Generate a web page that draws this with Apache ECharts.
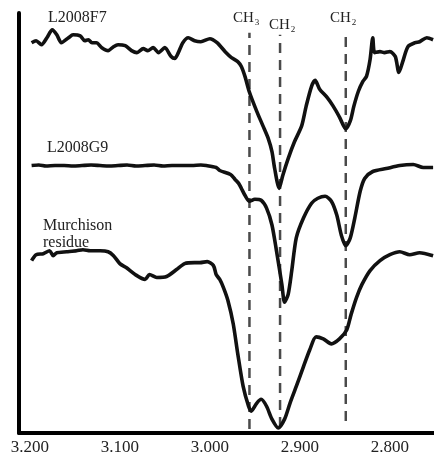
<!DOCTYPE html>
<html>
<head>
<meta charset="utf-8">
<script src="https://cdn.jsdelivr.net/npm/echarts@6/dist/echarts.min.js"></script>
<style>
html,body{margin:0;padding:0;background:#fff;}
#chart{width:434px;height:456px;}
</style>
</head>
<body>
<div id="chart"></div>
<script>
// Wavenumber (cm-1) and relative transmittance (arbitrary, offset) for each spectrum
var f7Wn  = [3198,3193,3187,3181,3175,3170,3165,3157,3152,3144,3139,3135,3131,3126,3120,3113,3107,3102,3094,3087,3081,3074,3069,3063,3057,3050,3043,3039,3035,3030,3024,3017,3010,3000,2992,2983,2976,2969,2965,2961,2956,2948,2941,2935,2931,2928,2923,2919,2913,2906,2898,2893,2887,2883,2878,2870,2863,2856,2849,2844,2840,2835,2830,2826,2822,2819,2817,2811,2806,2800,2794,2790,2785,2780,2772,2767,2759,2752];
var f7Val = [394,396,392,399,407,402,394,399,402,401,396,397,394,394,389,386,390,392,391,386,384,388,386,389,384,389,380,378,384,394,399,396,395,398,394,385,379,375,370,360,344,325,310,297,284,267,247,260,277,294,310,330,350,356,347,339,330,319,307,315,330,345,355,360,377,399,384,385,384,385,380,364,377,390,394,395,399,397];

var g9Wn  = [3198,3190,3182,3172,3162,3152,3142,3132,3122,3112,3102,3092,3082,3072,3062,3052,3042,3032,3020,3010,3004,2993,2989,2977,2972,2968,2965,2961,2956,2950,2943,2937,2931,2926,2920,2917,2913,2909,2904,2896,2887,2880,2872,2865,2859,2854,2849,2844,2839,2833,2828,2819,2804,2789,2774,2763,2752];
var g9Val = [270,270.5,269.5,270,270,269.5,270,270.5,270,269.5,270,270.5,269.5,270,270.5,269.5,270,270,270,270.5,270,268,265,261,256,252,247,240,234,236,235,227,210,184,150,132,140,164,197,217,232,237,239,234,220,200,189,197,217,244,257,264,267,270,271,268,268];

var murWn  = [3198,3193,3185,3178,3174,3170,3159,3148,3141,3133,3122,3113,3107,3100,3093,3083,3072,3067,3059,3048,3037,3028,3017,3011,3003,2996,2993,2989,2985,2980,2974,2969,2963,2957,2954,2948,2943,2937,2931,2924,2917,2911,2904,2896,2889,2882,2874,2865,2856,2848,2843,2837,2831,2822,2811,2800,2789,2778,2767,2752];
var murVal = [174,180,181,184,179,182,183,184,185,184,184,183,179,171,167,160,155,160,157,158,165,171,172,172,173,169,160,155,147,134,110,80,47,27,22,30,34,27,14,5,14,30,47,67,84,97,95,90,95,104,120,137,150,164,174,180,183,180,182,179];

var seriesNames = ['L2008F7','L2008G9','Murchison residue'];

// Band assignments (cm-1)
var bandWn    = [2956, 2922, 2849];
var bandMain  = ['CH','CH','CH'];
var bandSub   = ['3','2','2'];
var bandTop   = [404, 402, 402];
var bandBot   = [4, 6, 12];

// Tick labels
var tickValues = [3200, 3100, 3000, 2900, 2800];
var tickLabels = ['3.200','3.100','3.000','2.900','2.800'];

function pairs(a, b){ return a.map(function(v,i){ return [v, b[i]]; }); }

var chart = echarts.init(document.getElementById('chart'), null, {renderer:'canvas'});
var serif = '"Liberation Serif","Times New Roman",serif';

var series = [];
[[f7Wn,f7Val],[g9Wn,g9Val],[murWn,murVal]].forEach(function(s, i){
  series.push({
    name: seriesNames[i], type:'line', data: pairs(s[0], s[1]),
    showSymbol:false, smooth:0.25, z:5,
    lineStyle:{color:'#111', width:3.6}, silent:true
  });
});
bandWn.forEach(function(w, i){
  series.push({
    type:'line', data:[[w, bandBot[i]],[w, bandTop[i]]], showSymbol:false, z:3, silent:true,
    lineStyle:{color:'#4a4a4a', width:2.5, type:[10,7]}
  });
});

// Label positions (pixels) for text annotations
var labelPos = {
  names: [[48,17.5,'L2008F7'],[47,147.5,'L2008G9'],[43,226,'Murchison'],[43,242.5,'residue']],
  bands: [[233,18],[269,25],[330,18]]
};

var graphics = [];
labelPos.names.forEach(function(p){
  graphics.push({type:'text', x:p[0], y:p[1], z:10,
    style:{text:p[2], fill:'#222', font:'16px '+serif, textVerticalAlign:'middle', verticalAlign:'middle'}});
});
labelPos.bands.forEach(function(p, i){
  graphics.push({type:'text', x:p[0], y:p[1], z:10,
    style:{text:bandMain[i]+'{s|'+bandSub[i]+'}', fill:'#222', font:'15px '+serif,
      textVerticalAlign:'middle', verticalAlign:'middle',
      rich:{s:{fontSize:9, fontFamily:serif, fill:'#222', padding:[9,0,0,1]}}}});
});

chart.setOption({
  animation:false,
  backgroundColor:'#fff',
  grid:{left:19, right:0, top:13, bottom:19, containLabel:false},
  xAxis:{
    type:'value', inverse:true, min:2751, max:3212,
    axisLine:{show:true, onZero:false, lineStyle:{color:'#000', width:4}},
    axisTick:{show:false},
    splitLine:{show:false},
    axisLabel:{
      customValues: tickValues,
      formatter:function(v){ var k = tickValues.indexOf(v); return k>=0 ? tickLabels[k] : ''; },
      color:'#222', fontSize:17, fontFamily:serif, margin:6
    }
  },
  yAxis:{
    type:'value', min:0, max:424,
    axisLine:{show:true, onZero:false, lineStyle:{color:'#000', width:4}},
    axisTick:{show:false}, axisLabel:{show:false}, splitLine:{show:false}
  },
  series: series,
  graphic: graphics
});
</script>
</body>
</html>
